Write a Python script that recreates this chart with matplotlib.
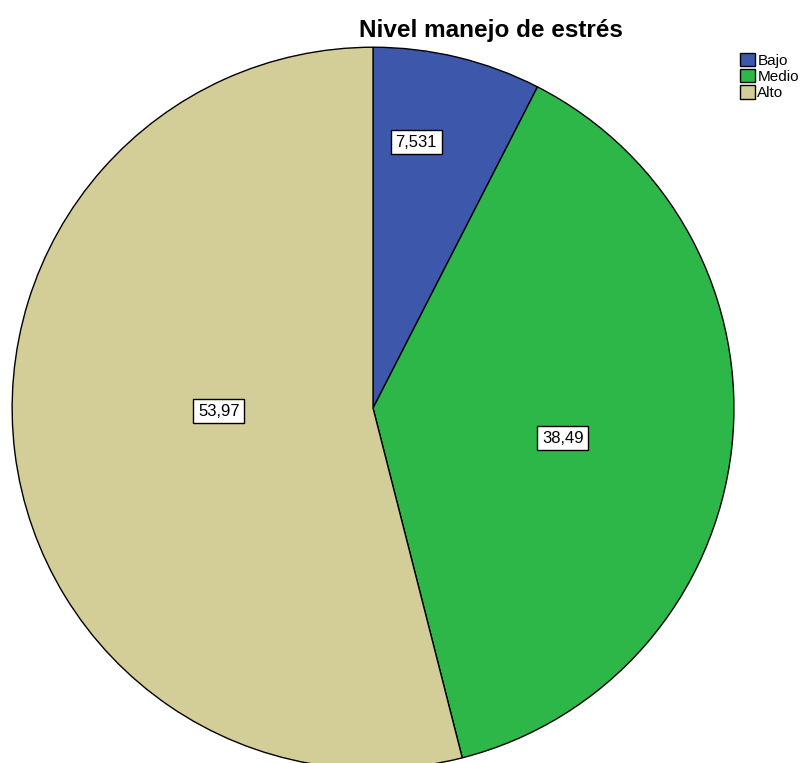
import matplotlib
matplotlib.use("Agg")
import matplotlib.pyplot as plt

plt.rcParams['font.family'] = ['Liberation Sans', 'DejaVu Sans']

# datos
categorias = ['Bajo', 'Medio', 'Alto']
valores = [7.531, 38.49, 53.97]
etiquetas = ['7,531', '38,49', '53,97']
colores = ['#3d57ab', '#2db749', '#d3ce98']
# posiciones de las etiquetas (fracción del radio)
pos_etiquetas = [(0.12, 0.737), (0.526, -0.083), (-0.427, -0.008)]

fig = plt.figure(figsize=(8.05, 7.63), dpi=100)
ax = fig.add_axes([0.0149, -0.0079, 0.897, 0.946])

wedges, _ = ax.pie(valores, colors=colores, startangle=90, counterclock=False,
                   wedgeprops=dict(edgecolor='black', linewidth=1.0))
ax.set_xlim(-1, 1)
ax.set_ylim(-1, 1)
ax.set_aspect('equal')

for (x, y), txt in zip(pos_etiquetas, etiquetas):
    ax.text(x, y, txt, ha='center', va='center', fontsize=12,
            bbox=dict(boxstyle='square,pad=0.28', facecolor='white',
                      edgecolor='black', linewidth=1.0))

fig.text(491 / 805, 1 - 30 / 763, 'Nivel manejo de estrés', ha='center', va='center',
         fontsize=17.5, fontweight='bold')

fig.legend(wedges, categorias, loc='upper left', bbox_to_anchor=(729 / 805, 1 - 42 / 763),
           frameon=False, fontsize=11, handlelength=1.0, handleheight=0.95,
           handletextpad=0.15, labelspacing=0.1, borderpad=0.2)

fig.savefig('out.png', dpi=100)
